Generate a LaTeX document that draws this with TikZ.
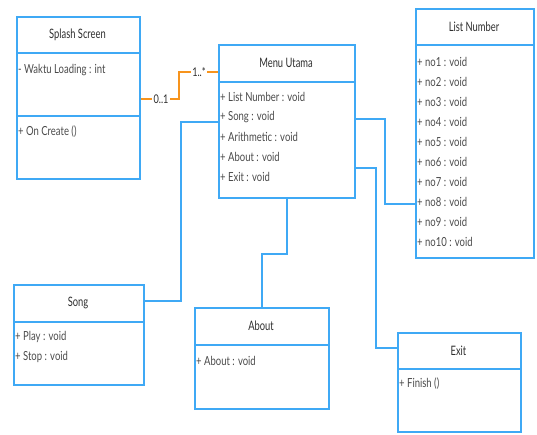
\documentclass[tikz,border=0pt]{standalone}
\usepackage{fontspec}
\setmainfont{Lato}
\newfontfamily\titlefont[FakeStretch=0.72]{Lato}
\newfontfamily\itemfont[FakeStretch=0.76]{Lato}
\usetikzlibrary{calc}
\definecolor{umlblue}{HTML}{3FA9F5}
\definecolor{umlorange}{HTML}{F7941D}
\definecolor{titlegray}{HTML}{2E2E2E}
\definecolor{itemgray}{HTML}{4A4A4A}
\begin{document}
\begin{tikzpicture}[x=1pt,y=-1pt,
  classbox/.style={draw=umlblue, line width=1.9pt, anchor=north west, inner sep=0pt},
  ctitle/.style={font=\titlefont\fontsize{13}{15}\selectfont, text=titlegray, inner sep=0pt},
  citem/.style={font=\itemfont\fontsize{12.5}{14}\selectfont, text=itemgray, anchor=west, inner sep=0pt},
  sepline/.style={draw=umlblue, line width=1.9pt},
  link/.style={draw=umlblue, line width=1.9pt},
  assoc/.style={draw=umlorange, line width=1.9pt},
  mult/.style={fill=white, inner sep=1.5pt, font=\itemfont\fontsize{12}{14}\selectfont, text=titlegray}
]
\useasboundingbox (0,0) rectangle (537,435);

% Splash Screen
\node[classbox, minimum width=123pt, minimum height=162pt] (splash) at (16,16) {};
\node[ctitle] (splashT) at (77.5,34.5) {Splash Screen};
\draw[sepline] (splash.west |- 0,53) -- (splash.east |- 0,53);
\draw[sepline] (splash.west |- 0,116) -- (splash.east |- 0,116);
\node[citem] (splashA) at (18,70) {- Waktu Loading : int};
\node[citem] (splashO) at (18,132) {+ On Create ()};

% Menu Utama
\node[classbox, minimum width=136pt, minimum height=153pt] (menu) at (218,44) {};
\node[ctitle] (menuT) at (286,63) {Menu Utama};
\draw[sepline] (menu.west |- 0,82) -- (menu.east |- 0,82);
\node[citem] (m1) at (220,97) {+ List Number : void};
\node[citem] (m2) at (220,117) {+ Song : void};
\node[citem] (m3) at (220,137) {+ Arithmetic : void};
\node[citem] (m4) at (220,157) {+ About : void};
\node[citem] (m5) at (220,177) {+ Exit : void};

% List Number
\node[classbox, minimum width=118pt, minimum height=249pt] (list) at (415,8) {};
\node[ctitle] (listT) at (474,26.5) {List Number};
\draw[sepline] (list.west |- 0,45) -- (list.east |- 0,45);
\foreach \i in {1,...,10}{
  \node[citem] (n\i) at (417,{42+20*\i}) {+ no\i\ : void};
}

% Song
\node[classbox, minimum width=130pt, minimum height=100pt] (song) at (13,284) {};
\node[ctitle] (songT) at (78,303) {Song};
\draw[sepline] (song.west |- 0,322) -- (song.east |- 0,322);
\node[citem] (s1) at (15,337) {+ Play : void};
\node[citem] (s2) at (15,357) {+ Stop : void};

% About
\node[classbox, minimum width=134pt, minimum height=101pt] (about) at (194,307) {};
\node[ctitle] (aboutT) at (261,326) {About};
\draw[sepline] (about.west |- 0,345) -- (about.east |- 0,345);
\node[citem] (a1) at (196,361) {+ About : void};

% Exit
\node[classbox, minimum width=123pt, minimum height=99pt] (exit) at (397,332) {};
\node[ctitle] (exitT) at (458.5,350.5) {Exit};
\draw[sepline] (exit.west |- 0,369) -- (exit.east |- 0,369);
\node[citem] (e1) at (399,384) {+ Finish ()};

% association Splash Screen -- Menu Utama
\draw[assoc] (splash.east |- 0,99) -- (179,99) -- (179,72) -- (menu.west |- 0,72);
\node[mult] (multA) at (161,99) {0..1};
\node[mult] (multB) at (199,72) {1..*};

% links from Menu Utama
\draw[link] (song.east |- 0,301) -| (181,122) -- (menu.west |- 0,122);
\draw[link] (menu.east |- 0,119) -| (385,204) -- (list.west |- 0,204);
\draw[link] (menu.east |- 0,168) -| (376,348) -- (exit.west |- 0,348);
\draw[link] (menu.south) -- ++(0,55) -| (about.north);
\end{tikzpicture}
\end{document}
